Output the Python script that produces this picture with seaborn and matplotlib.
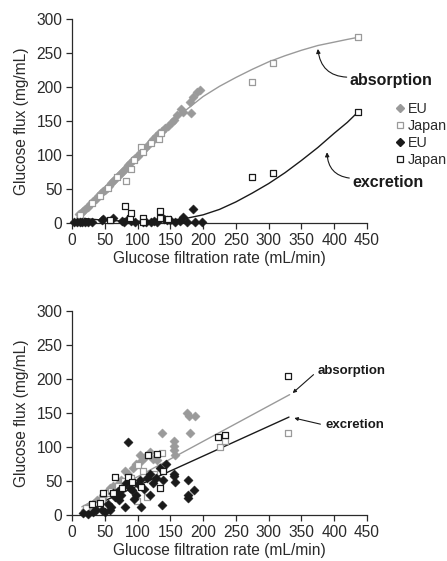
import matplotlib
matplotlib.use("Agg")
import matplotlib.pyplot as plt
from matplotlib.lines import Line2D
import seaborn as sns
import pandas as pd

# ---------------- data (top panel) ----------------
top_eu_abs_x = [10, 14, 17, 20, 24, 28, 32, 36, 40, 44, 47, 50, 53, 56, 60, 63, 66, 70, 73, 76, 79, 82,
                86, 89, 93, 96, 100, 104, 108, 112, 116, 120, 124, 128, 132, 137, 142, 147, 152, 156,
                160, 167, 170, 180, 182, 185, 190, 195]
top_eu_abs_y = [13, 15, 17, 20, 24, 28, 32, 36, 40, 44, 47, 49, 52, 55, 59, 62, 65, 69, 72, 75, 78, 81,
                85, 88, 92, 95, 98, 103, 107, 111, 115, 119, 124, 128, 132, 136, 140, 143, 149, 152,
                159, 167, 163, 178, 162, 186, 192, 196]
top_jp_abs_x = [12, 30, 42, 55, 68, 83, 90, 95, 106, 109, 120, 133, 135, 275, 307, 436]
top_jp_abs_y = [12, 30, 40, 52, 67, 62, 79, 92, 112, 105, 118, 123, 132, 208, 235, 273]
top_eu_exc_x = [3, 8, 12, 16, 20, 25, 30, 45, 47, 63, 76, 80, 85, 90, 96, 108, 113, 120, 125, 130, 140,
                145, 150, 157, 165, 170, 175, 185, 187, 198]
top_eu_exc_y = [1, 1, 1, 1, 1, 1, 1, 4, 6, 8, 3, 2, 6, 3, 2, 2, 2, 2, 3, 2, 6, 5, 4, 1, 3, 9, 1, 21, 1, 1]
top_jp_exc_x = [58, 81, 89, 90, 108, 108, 134, 134, 146, 274, 306, 436]
top_jp_exc_y = [5, 25, 7, 14, 7, 2, 17, 7, 6, 67, 73, 163]

top_abs_curve_x = [10, 30, 50, 75, 100, 125, 150, 175, 200, 225, 250, 275, 300, 325, 350, 375, 400, 420, 436]
top_abs_curve_y = [12, 32, 52, 77, 101, 124, 146, 167, 186, 201, 214, 226, 237, 246, 254, 261, 266, 270, 273]
top_exc_curve_x = [8, 25, 50, 75, 100, 125, 150, 175, 200, 225, 250, 275, 300, 325, 350, 375, 400, 420, 436]
top_exc_curve_y = [8, 6, 4, 3, 2.5, 3, 4, 7, 12, 20, 31, 44, 58, 74, 92, 111, 132, 148, 163]

# ---------------- data (bottom panel) ----------------
bot_eu_abs_x = [20, 28, 35, 38, 45, 48, 52, 58, 62, 66, 71, 75, 81, 86, 93, 98, 104, 106, 112, 119,
                123, 129, 138, 156, 156, 157, 156, 175, 179, 180, 187]
bot_eu_abs_y = [7, 14, 18, 22, 25, 29, 33, 39, 42, 37, 47, 52, 64, 60, 69, 75, 88, 80, 85, 93,
                82, 81, 121, 109, 101, 88, 95, 150, 146, 120, 146]
bot_jp_abs_x = [22, 35, 45, 53, 60, 70, 80, 90, 99, 101, 109, 115, 125, 137, 139, 226, 233, 330]
bot_jp_abs_y = [10, 15, 22, 32, 35, 42, 50, 55, 21, 73, 64, 27, 60, 91, 70, 100, 109, 121]
bot_eu_exc_x = [17, 24, 32, 37, 45, 50, 58, 60, 63, 66, 71, 75, 81, 83, 86, 91, 95, 97, 104, 105,
                114, 119, 119, 124, 134, 137, 139, 143, 156, 156, 157, 177, 177, 177, 186, 55, 70,
                88, 100, 110, 128]
bot_eu_exc_y = [3, 1, 5, 7, 7, 5, 7, 12, 32, 27, 22, 30, 12, 47, 108, 37, 24, 29, 51, 12,
                54, 61, 29, 47, 69, 15, 51, 75, 61, 57, 48, 52, 29, 25, 37, 16, 35, 40, 45, 38, 55]
bot_jp_exc_x = [31, 42, 47, 63, 66, 76, 86, 91, 106, 116, 130, 134, 139, 222, 234, 330]
bot_jp_exc_y = [16, 18, 33, 32, 56, 39, 56, 49, 41, 88, 90, 39, 64, 115, 117, 205]

bot_abs_line_x = [15, 332]
bot_abs_line_y = [12, 177]
bot_exc_line_x = [25, 331]
bot_exc_line_y = [10, 144]

x_ticks = [0, 50, 100, 150, 200, 250, 300, 350, 400, 450]
y_ticks = [0, 50, 100, 150, 200, 250, 300]
legend_labels = ["EU", "Japan", "EU", "Japan"]

# ---------------- style ----------------
sns.set_style("ticks")
plt.rcParams["font.family"] = ["Liberation Sans", "DejaVu Sans"]
GRAY = "#9a9a9a"
BLACK = "#1a1a1a"
TXT = "#2a2a2a"
FS = 11.2

fig = plt.figure(figsize=(4.47, 5.61), dpi=100)
ax1 = fig.add_axes([72 / 447, 1 - 223 / 561, 295 / 447, 204 / 561])
ax2 = fig.add_axes([72 / 447, 1 - 515 / 561, 295 / 447, 204 / 561])


def scatter(ax, x, y, color, marker, filled):
    df = pd.DataFrame({"x": x, "y": y})
    if filled:
        sns.scatterplot(data=df, x="x", y="y", ax=ax, color=color, marker="D", s=22,
                        edgecolor=color, linewidth=0.3, clip_on=False, zorder=3)
    else:
        sns.scatterplot(data=df, x="x", y="y", ax=ax, marker="s", s=14,
                        facecolor="white", edgecolor=color, linewidth=0.9, clip_on=False, zorder=3)


def line(ax, x, y, color):
    df = pd.DataFrame({"x": x, "y": y})
    sns.lineplot(data=df, x="x", y="y", ax=ax, color=color, linewidth=1.0, sort=False,
                 estimator=None, zorder=2)


# top panel
line(ax1, top_abs_curve_x, top_abs_curve_y, GRAY)
line(ax1, top_exc_curve_x, top_exc_curve_y, BLACK)
scatter(ax1, top_eu_abs_x, top_eu_abs_y, GRAY, "D", True)
scatter(ax1, top_jp_abs_x, top_jp_abs_y, GRAY, "s", False)
scatter(ax1, top_eu_exc_x, top_eu_exc_y, BLACK, "D", True)
scatter(ax1, top_jp_exc_x, top_jp_exc_y, BLACK, "s", False)

# bottom panel
line(ax2, bot_abs_line_x, bot_abs_line_y, GRAY)
line(ax2, bot_exc_line_x, bot_exc_line_y, BLACK)
scatter(ax2, bot_eu_abs_x, bot_eu_abs_y, GRAY, "D", True)
scatter(ax2, bot_jp_abs_x, bot_jp_abs_y, GRAY, "s", False)
scatter(ax2, bot_eu_exc_x, bot_eu_exc_y, BLACK, "D", True)
scatter(ax2, bot_jp_exc_x, bot_jp_exc_y, BLACK, "s", False)

for ax in (ax1, ax2):
    ax.set_xlim(0, 450)
    ax.set_ylim(0, 300)
    ax.set_xticks(x_ticks)
    ax.set_yticks(y_ticks)
    ax.tick_params(axis="both", direction="out", length=4, width=0.9, colors=TXT,
                   labelsize=FS, pad=3)
    for sp in ("left", "bottom"):
        ax.spines[sp].set_color(TXT)
        ax.spines[sp].set_linewidth(0.9)
    for sp in ("top", "right"):
        ax.spines[sp].set_visible(False)
    ax.set_xlabel("Glucose filtration rate (mL/min)", fontsize=FS, color=TXT, labelpad=2)
    ax.set_ylabel("Glucose flux (mg/mL)", fontsize=FS, color=TXT, labelpad=5)

# annotations top
arrow = dict(arrowstyle="-|>", color=BLACK, lw=0.8, mutation_scale=6, shrinkA=0, shrinkB=0)
ax1.annotate("absorption", xy=(375, 256), xytext=(424, 210), fontsize=11.5, fontweight="bold",
             color=BLACK, va="center", ha="left", annotation_clip=False,
             arrowprops=dict(arrow, connectionstyle="arc3,rad=-0.45", relpos=(0, 0.7)))
ax1.annotate("excretion", xy=(389, 104), xytext=(428, 59), fontsize=11.5, fontweight="bold",
             color=BLACK, va="center", ha="left", annotation_clip=False,
             arrowprops=dict(arrow, connectionstyle="arc3,rad=-0.45", relpos=(0, 0.8)))

# annotations bottom
arrow2 = dict(arrowstyle="-|>", color=BLACK, lw=0.8, mutation_scale=5, shrinkA=1, shrinkB=1)
ax2.annotate("absorption", xy=(335, 178), xytext=(375, 212), fontsize=9.5, fontweight="bold",
             color=BLACK, va="center", ha="left", annotation_clip=False,
             arrowprops=dict(arrow2, relpos=(0, 0.5)))
ax2.annotate("excretion", xy=(337, 143), xytext=(386, 132), fontsize=9.5, fontweight="bold",
             color=BLACK, va="center", ha="left", annotation_clip=False,
             arrowprops=dict(arrow2, relpos=(0, 0.5)))

# legend
handles = [
    Line2D([], [], linestyle="none", marker="D", markersize=4, color=GRAY, markeredgecolor=GRAY),
    Line2D([], [], linestyle="none", marker="s", markersize=4, markerfacecolor="white",
           markeredgecolor=GRAY, markeredgewidth=0.9),
    Line2D([], [], linestyle="none", marker="D", markersize=4, color=BLACK, markeredgecolor=BLACK),
    Line2D([], [], linestyle="none", marker="s", markersize=4, markerfacecolor="white",
           markeredgecolor=BLACK, markeredgewidth=0.9),
]
fig.legend(handles, legend_labels, loc="upper left", bbox_to_anchor=(396 / 447, 1 - 102 / 561),
           frameon=False, fontsize=10.3, handlelength=0.5, handletextpad=0.3, labelspacing=0.2,
           borderaxespad=0, borderpad=0, labelcolor=TXT)

fig.savefig("out.png", dpi=100)
